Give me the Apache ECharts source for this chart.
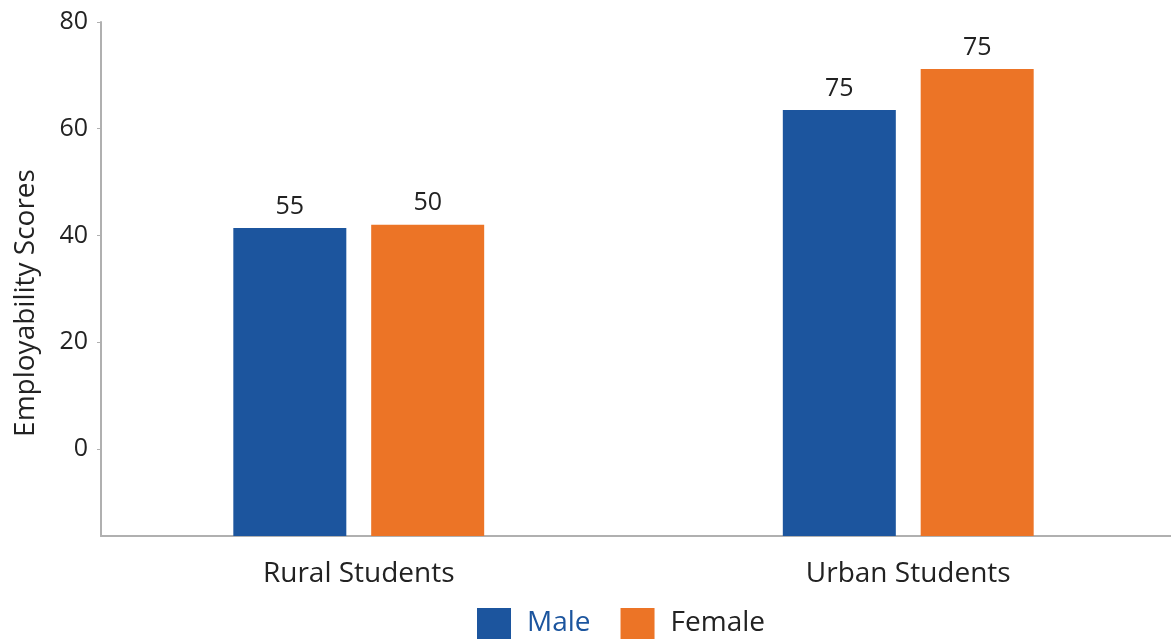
<!DOCTYPE html>
<html>
<head>
<meta charset="utf-8">
<script src="https://cdn.jsdelivr.net/npm/echarts@6/dist/echarts.min.js"></script>
<style>
  html, body { margin: 0; padding: 0; background: #fff; }
  #chart { width: 1171px; height: 639px; }
</style>
</head>
<body>
<div id="chart"></div>
<script>
// values
var categories = ["Rural Students", "Urban Students"];
var male_values = [41.4, 63.5];
var female_values = [42.0, 71.2];
// the printed labels above the bars
var male_labels = ["55", "75"];
var female_labels = ["50", "75"];
var y_ticks = [0, 20, 40, 60, 80];
var y_min = -16.3;
var y_max = 80;

var blue = "#1c559e", orange = "#ec7426";

// bars rise from the bottom of the plot, so they live on a hidden axis that starts at y_min
function from_bottom(list) {
    return list.map(function (v) { return v - y_min; });
}

function bar_series(name, values, labels, color) {
    return {
        name: name,
        type: "bar",
        xAxisIndex: 0,
        yAxisIndex: 0,
        barWidth: 113,
        barGap: "22%",
        data: from_bottom(values),
        itemStyle: {color: color},
        label: {
            show: true,
            position: "top",
            distance: 9,
            fontSize: 25,
            color: "#222",
            fontFamily: "Open Sans",
            formatter: function (p) { return labels[p.dataIndex]; }
        }
    };
}

var option = {
    animation: false,
    textStyle: {fontFamily: "Open Sans"},
    grid: [
        {left: 84, width: 1099, top: 22, bottom: 103, outerBoundsMode: "none"},
        {left: 101, right: 0, top: 22, bottom: 103, outerBoundsMode: "none"}
    ],
    legend: {
        left: 472,
        top: 603,
        itemWidth: 34,
        itemHeight: 31,
        itemGap: 30,
        icon: "rect",
        textStyle: {fontSize: 28, color: "#222", padding: [0, 0, 0, 11]},
        data: [
            {name: "Male", textStyle: {color: blue}},
            {name: "Female"}
        ]
    },
    xAxis: [
        {
            type: "category",
            gridIndex: 0,
            data: categories,
            axisLine: {show: false},
            axisTick: {show: false},
            axisLabel: {fontSize: 28, color: "#222", margin: 24}
        },
        {
            type: "category",
            gridIndex: 1,
            data: categories,
            axisLine: {onZero: false, lineStyle: {color: "#b0b0b0", width: 2}},
            axisTick: {show: false},
            axisLabel: {show: false}
        }
    ],
    yAxis: [
        {
            type: "value",
            gridIndex: 0,
            min: 0,
            max: y_max - y_min,
            show: false
        },
        {
            type: "value",
            gridIndex: 1,
            min: y_min,
            max: y_max,
            name: "Employability Scores",
            nameLocation: "middle",
            nameGap: 61,
            nameTextStyle: {fontSize: 28, color: "#222", padding: [0, 48, 0, 0]},
            splitLine: {show: false},
            axisLine: {show: true, onZero: false, lineStyle: {color: "#b0b0b0", width: 2}},
            axisTick: {show: true, length: 4, customValues: y_ticks, lineStyle: {color: "#b0b0b0"}},
            axisLabel: {fontSize: 25, color: "#222", margin: 13, customValues: y_ticks}
        }
    ],
    series: [
        bar_series("Male", male_values, male_labels, blue),
        bar_series("Female", female_values, female_labels, orange)
    ]
};

var chart = echarts.init(document.getElementById("chart"));
chart.setOption(option);
</script>
</body>
</html>
